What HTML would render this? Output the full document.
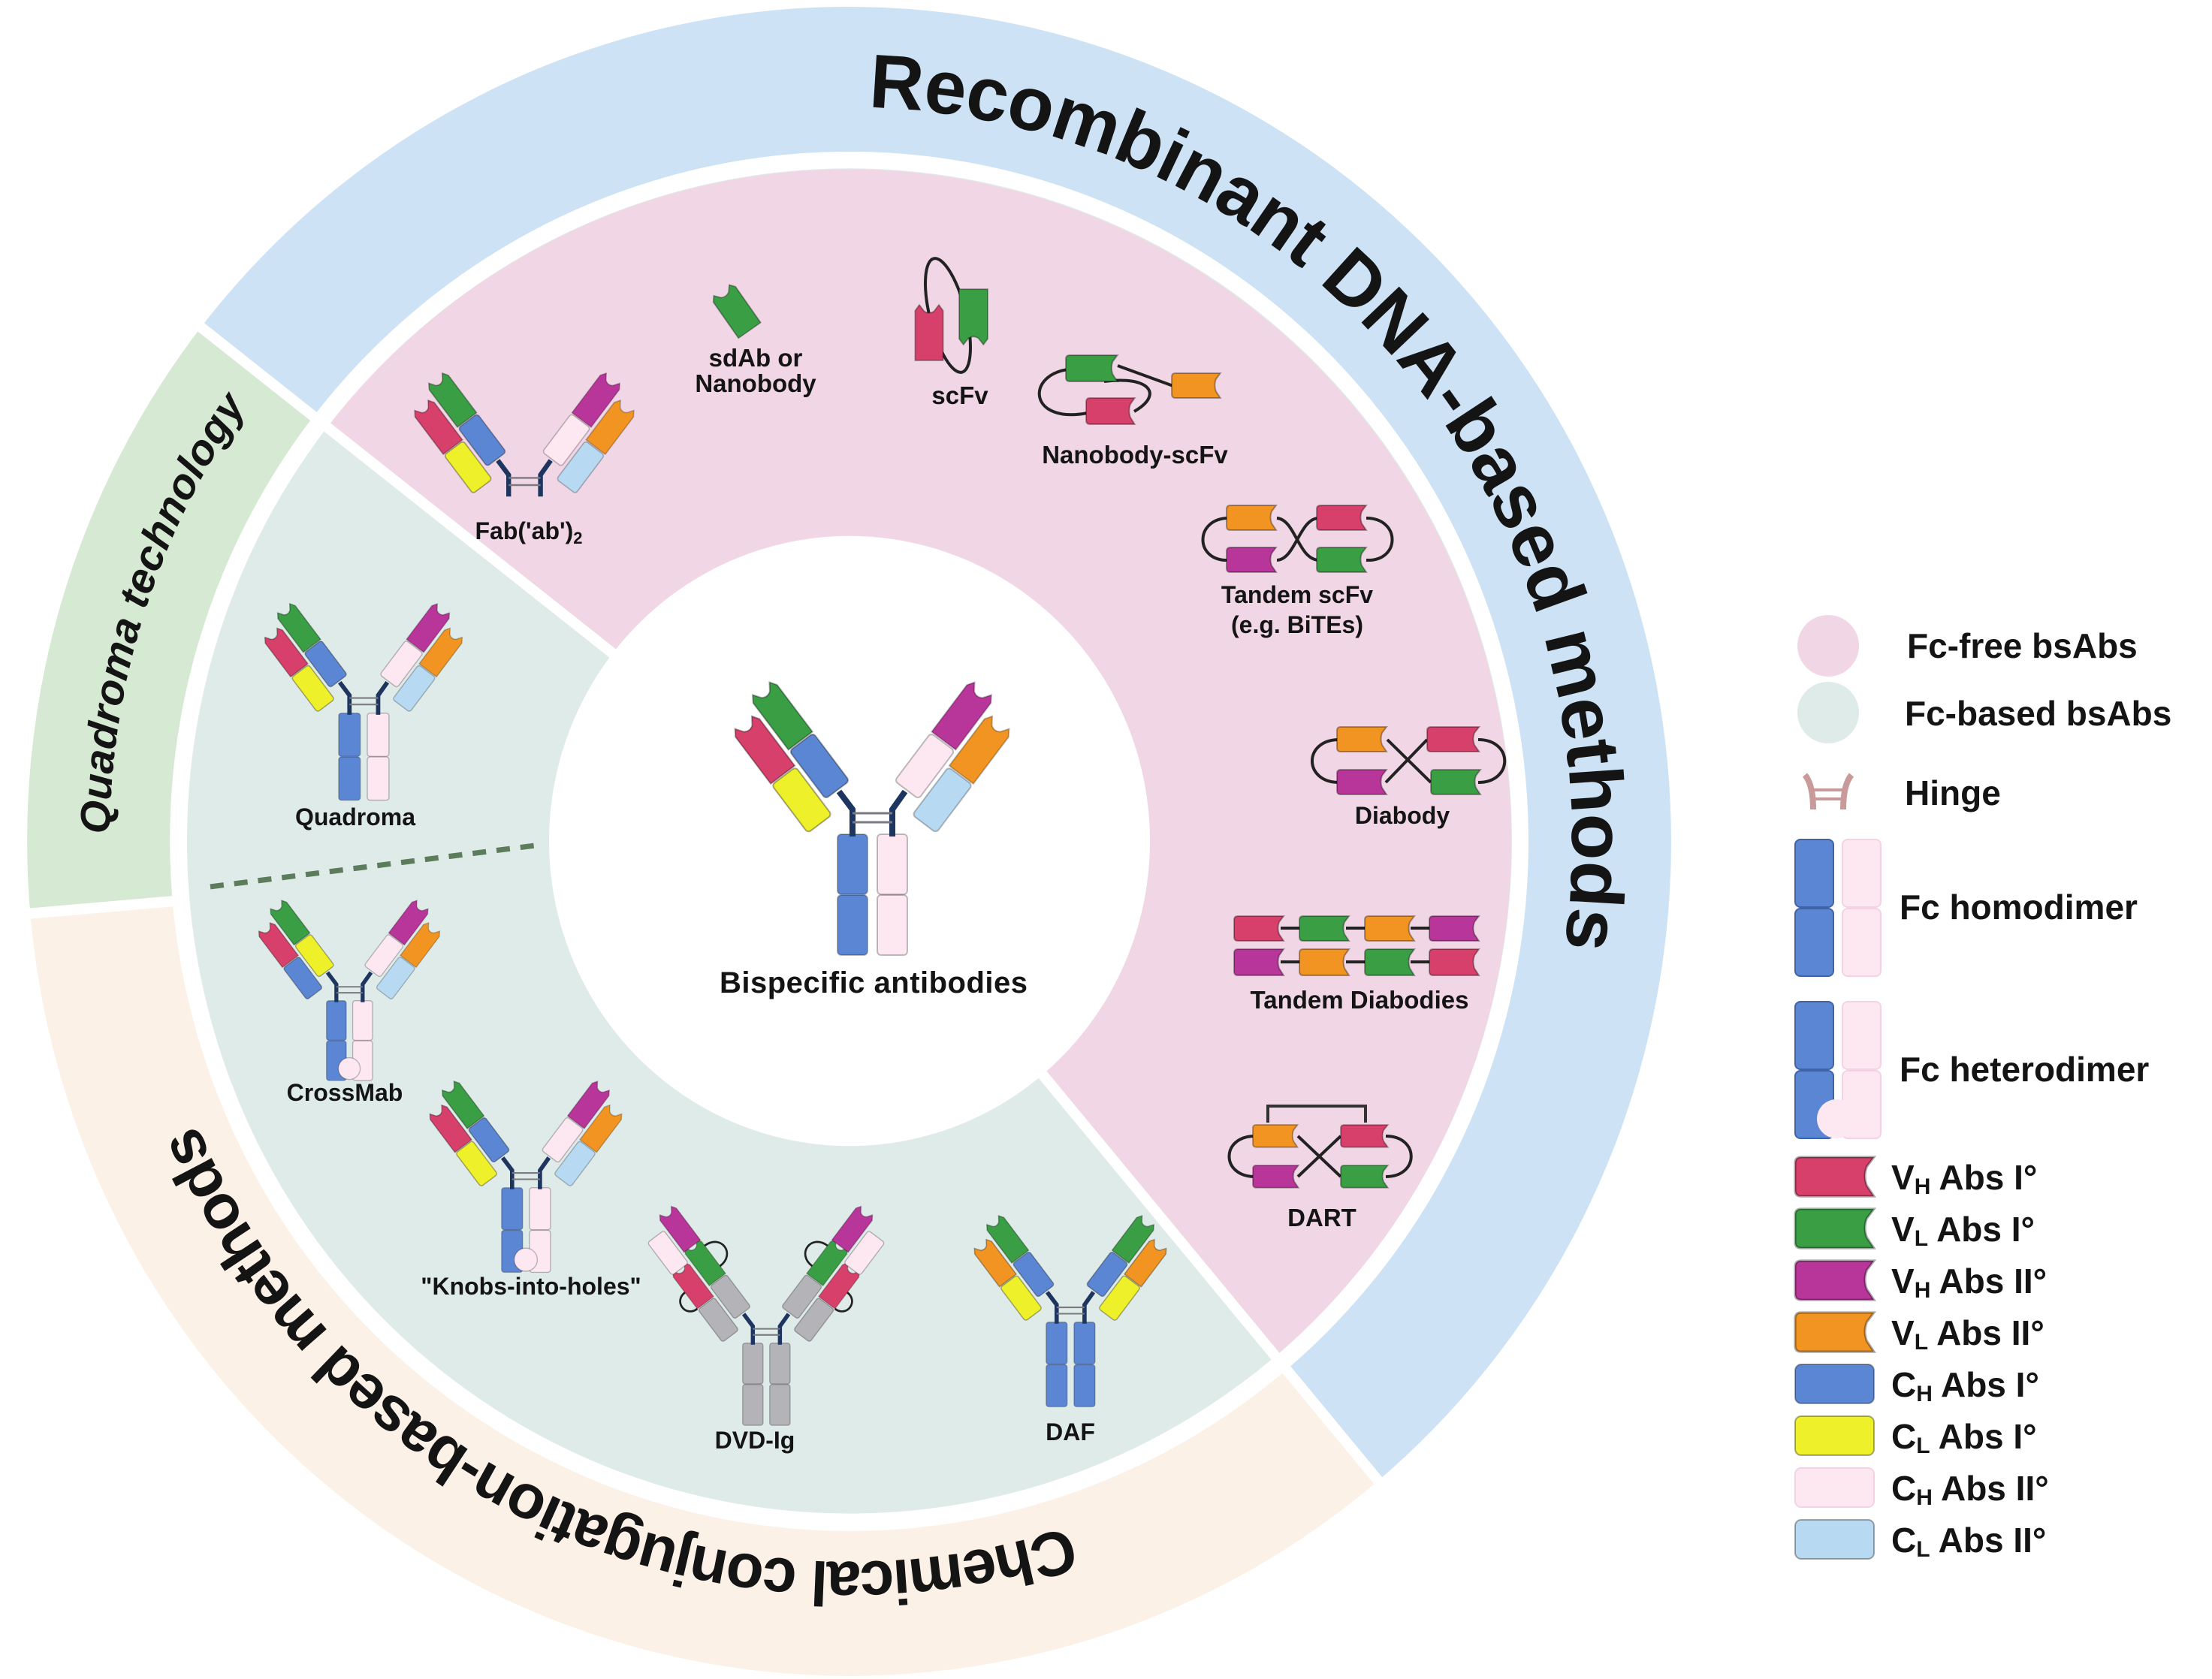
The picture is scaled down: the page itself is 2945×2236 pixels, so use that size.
<!DOCTYPE html>
<html><head><meta charset="utf-8"><style>
html,body{margin:0;padding:0;background:#fff;}
svg{display:block;}
text{font-family:"Liberation Sans",sans-serif;font-weight:bold;fill:#141414;}
</style></head><body>
<svg width="2945" height="2236" viewBox="0 0 2945 2236" xmlns="http://www.w3.org/2000/svg">
<defs>
<path id="V" d="M-20,0 V-78 L-14,-87 L-7,-77 Q0,-72 7,-77 L14,-87 L20,-78 V0 Z"/>
<rect id="C" x="-20" y="-80" width="40" height="80" rx="5"/>
<path id="H" d="M0,5 Q0,0 5,0 H66 L60,8 Q57,16 60,24 L66,33 H5 Q0,33 0,28 Z"/>
<g id="hinge">
<path d="M-26,4 V-32 L-44,-56 M27,4 V-32 L44,-56" stroke="#1e3560" stroke-width="8" fill="none"/>
<path d="M-26,-15 H27 M-26,-27 H27" stroke="#7a7a80" stroke-width="3" fill="none"/>
</g>
<g id="armStdL" stroke="#00000055" stroke-width="2">
<use href="#C" fill="#5b86d4"/><use href="#V" fill="#3a9e45" transform="translate(0,-82)"/>
<use href="#C" fill="#eef02a" transform="translate(-46,22)"/><use href="#V" fill="#d6406a" transform="translate(-46,-60)"/>
</g>
<g id="armStdR" stroke="#00000040" stroke-width="2">
<use href="#C" fill="#fde8f2"/><use href="#V" fill="#b8359a" transform="translate(0,-82)"/>
<use href="#C" fill="#b7d9f2" transform="translate(46,22)"/><use href="#V" fill="#f29422" transform="translate(46,-60)"/>
</g>
<g id="armCrossL" stroke="#00000055" stroke-width="2">
<use href="#C" fill="#eef02a"/><use href="#V" fill="#3a9e45" transform="translate(0,-82)"/>
<use href="#C" fill="#5b86d4" transform="translate(-46,22)"/><use href="#V" fill="#d6406a" transform="translate(-46,-60)"/>
</g>
<g id="armDAF" stroke="#00000055" stroke-width="2">
<use href="#C" fill="#5b86d4"/><use href="#V" fill="#3a9e45" transform="translate(0,-82)"/>
<use href="#C" fill="#eef02a" transform="translate(-46,22)"/><use href="#V" fill="#f29422" transform="translate(-46,-60)"/>
</g>
<g id="armDVD">
<path d="M20,-150 C60,-150 60,-100 20,-100 M-66,-100 C-95,-100 -95,-60 -66,-60" stroke="#222" stroke-width="4" fill="none"/>
<g stroke="#00000045" stroke-width="2">
<use href="#C" fill="#b4b4b8"/><use href="#V" fill="#3a9e45" transform="translate(0,-82)"/><use href="#V" fill="#b8359a" transform="translate(0,-164)"/>
<use href="#C" fill="#b4b4b8" transform="translate(-46,22)"/><use href="#V" fill="#d6406a" transform="translate(-46,-60)"/><use href="#C" fill="#fde8f2" transform="translate(-46,-142)"/>
</g></g>
<g id="fcHomo" stroke="#00000040" stroke-width="2">
<use href="#C" fill="#5b86d4" transform="translate(-26,81)"/><use href="#C" fill="#5b86d4" transform="translate(-26,162)"/>
<use href="#C" fill="#fde8f2" transform="translate(27,81)"/><use href="#C" fill="#fde8f2" transform="translate(27,162)"/>
</g>
<g id="fcKnob" stroke="#00000040" stroke-width="2">
<use href="#C" fill="#5b86d4" transform="translate(-26,81)"/><use href="#C" fill="#5b86d4" transform="translate(-26,162)"/>
<use href="#C" fill="#fde8f2" transform="translate(27,81)"/><use href="#C" fill="#fde8f2" transform="translate(27,162)"/>
<circle cx="0" cy="138" r="22" fill="#fde8f2"/>
</g>
<g id="abStd"><use href="#fcHomo"/><use href="#hinge"/>
<use href="#armStdL" transform="translate(-46,-58) rotate(-37)"/><use href="#armStdR" transform="translate(46,-58) rotate(37)"/></g>
</defs>

<g transform="matrix(1,0,0,1.0155,0,-17.4)">
<!-- outer ring -->
<path d="M343,504 A1000,1000 0 1 1 1774,1886" stroke="#cde3f5" stroke-width="190" fill="none"/>
<path d="M1774,1886 A1000,1000 0 0 1 135,1207" stroke="#fcf1e6" stroke-width="190" fill="none"/>
<path d="M135,1207 A1000,1000 0 0 1 343,504" stroke="#d6e9d3" stroke-width="190" fill="none"/>
<!-- inner disk -->
<circle cx="1131" cy="1120" r="882" fill="#dfebe8"/>
<path d="M1131,1120 L436,577 A882,882 0 1 1 1698,1796 Z" fill="#f1d7e5"/>
<!-- separators -->
<path d="M1131,1120 L234,420 M1131,1120 L1840,1965" stroke="#fff" stroke-width="14"/>
<path d="M230,1199 L30,1216" stroke="#fff" stroke-width="14"/>
<circle cx="1131" cy="1120" r="400" fill="#fff"/>
<path d="M280,1180 L720,1125" stroke="#5c7c5c" stroke-width="7" stroke-dasharray="18,14"/>

<!-- curved titles -->
<path id="pRec" d="M1156,158 A962,962 0 0 1 2072,1320" fill="none"/>
<text font-size="100"><textPath href="#pRec" textLength="1627" lengthAdjust="spacing">Recombinant DNA-based methods</textPath></text>
<path id="pQuad" d="M146,1111 A985,985 0 0 1 376,487" fill="none"/>
<text font-size="56" font-style="italic"><textPath href="#pQuad" textLength="600" lengthAdjust="spacing">Quadroma technology</textPath></text>
<path id="pChem" d="M1423,2019 A945,945 0 0 1 218,1365" fill="none"/>
<text font-size="82"><textPath href="#pChem" textLength="1400" lengthAdjust="spacing">Chemical conjugation-based methods</textPath></text>
</g>

<!-- central -->
<use href="#abStd" transform="translate(1161,1110)"/>
<text x="1163" y="1322" font-size="40" text-anchor="middle" textLength="410">Bispecific antibodies</text>

<!-- Fab -->
<g transform="translate(698,658) scale(0.8)"><use href="#hinge"/>
<use href="#armStdL" transform="translate(-46,-58) rotate(-37)"/><use href="#armStdR" transform="translate(46,-58) rotate(37)"/></g>
<text x="704" y="718" font-size="32" text-anchor="middle">Fab('ab')<tspan font-size="22" dy="6">2</tspan></text>

<!-- sdAb -->
<g transform="translate(998,440) rotate(-35) scale(0.9,0.75)" stroke="#00000055" stroke-width="2"><use href="#V" fill="#3a9e45"/></g>
<text x="1006" y="488" font-size="33" text-anchor="middle">sdAb or</text>
<text x="1006" y="522" font-size="33" text-anchor="middle">Nanobody</text>

<!-- scFv -->
<ellipse cx="1262" cy="420" rx="24" ry="78" transform="rotate(-14 1262 420)" stroke="#222" stroke-width="4" fill="none"/>
<g stroke="#00000055" stroke-width="2">
<use href="#V" fill="#d6406a" transform="translate(1237,480) scale(0.93,0.85)"/>
<use href="#V" fill="#3a9e45" transform="translate(1296,385) scale(0.95,-0.85)"/>
</g>
<text x="1278" y="538" font-size="33" text-anchor="middle">scFv</text>

<!-- Nanobody-scFv -->
<path d="M1422,492 C1365,500 1370,565 1448,550 M1488,487 L1562,514 M1510,548 C1550,525 1530,500 1470,508" stroke="#222" stroke-width="4" fill="none"/>
<g stroke="#00000055" stroke-width="2">
<use href="#H" fill="#3a9e45" transform="translate(1419,473) scale(1.04,1.06)"/>
<use href="#H" fill="#f29422" transform="translate(1560,497) scale(0.98,1)"/>
<use href="#H" fill="#d6406a" transform="translate(1446,530) scale(0.98,1.06)"/>
</g>
<text x="1511" y="617" font-size="33" text-anchor="middle">Nanobody-scFv</text>

<!-- Tandem scFv -->
<path d="M1636,690 C1590,690 1590,748 1636,746 M1700,746 C1725,745 1730,690 1756,690 M1819,690 C1865,690 1865,748 1819,746 M1700,690 C1725,692 1728,745 1756,746" stroke="#222" stroke-width="4" fill="none"/>
<g stroke="#00000055" stroke-width="2">
<use href="#H" fill="#f29422" transform="translate(1633,673)"/>
<use href="#H" fill="#b8359a" transform="translate(1633,729)"/>
<use href="#H" fill="#d6406a" transform="translate(1753,673)"/>
<use href="#H" fill="#3a9e45" transform="translate(1753,729)"/>
</g>
<text x="1727" y="803" font-size="32" text-anchor="middle">Tandem scFv</text>
<text x="1727" y="843" font-size="32" text-anchor="middle">(e.g. BiTEs)</text>

<!-- Diabody -->
<path d="M1783,985 C1735,985 1735,1042 1783,1042 M1968,985 C2015,985 2015,1042 1968,1042 M1847,985 L1905,1042 M1845,1042 L1900,985" stroke="#222" stroke-width="4" fill="none"/>
<g stroke="#00000055" stroke-width="2">
<use href="#H" fill="#f29422" transform="translate(1780,968)"/>
<use href="#H" fill="#d6406a" transform="translate(1900,968) scale(1.05,1)"/>
<use href="#H" fill="#b8359a" transform="translate(1780,1025)"/>
<use href="#H" fill="#3a9e45" transform="translate(1905,1025)"/>
</g>
<text x="1867" y="1097" font-size="32" text-anchor="middle">Diabody</text>

<!-- Tandem Diabodies -->
<path d="M1705,1236 H1735 M1792,1236 H1822 M1878,1236 H1908 M1705,1281 H1735 M1792,1281 H1822 M1878,1281 H1908" stroke="#222" stroke-width="4"/>
<g stroke="#00000055" stroke-width="2">
<use href="#H" fill="#d6406a" transform="translate(1643,1220)"/>
<use href="#H" fill="#3a9e45" transform="translate(1730,1220)"/>
<use href="#H" fill="#f29422" transform="translate(1817,1220)"/>
<use href="#H" fill="#b8359a" transform="translate(1903,1220)"/>
<use href="#H" fill="#b8359a" transform="translate(1643,1264) scale(1,1.06)"/>
<use href="#H" fill="#f29422" transform="translate(1730,1264) scale(1,1.06)"/>
<use href="#H" fill="#3a9e45" transform="translate(1817,1264) scale(1,1.06)"/>
<use href="#H" fill="#d6406a" transform="translate(1903,1264) scale(1,1.06)"/>
</g>
<text x="1810" y="1343" font-size="33" text-anchor="middle">Tandem Diabodies</text>

<!-- DART -->
<path d="M1688,1495 V1473 H1818 V1495" stroke="#333" stroke-width="4" fill="none"/>
<path d="M1671,1513 C1625,1513 1625,1567 1671,1567 M1845,1513 C1890,1513 1890,1567 1845,1567 M1728,1513 L1785,1567 M1728,1567 L1785,1513" stroke="#222" stroke-width="4" fill="none"/>
<g stroke="#00000055" stroke-width="2">
<use href="#H" fill="#f29422" transform="translate(1668,1498) scale(0.9)"/>
<use href="#H" fill="#d6406a" transform="translate(1785,1498) scale(0.95,0.9)"/>
<use href="#H" fill="#b8359a" transform="translate(1668,1552) scale(0.92,0.9)"/>
<use href="#H" fill="#3a9e45" transform="translate(1785,1552) scale(0.95,0.9)"/>
</g>
<text x="1760" y="1633" font-size="33" text-anchor="middle">DART</text>

<!-- Quadroma -->
<use href="#abStd" transform="translate(484,949) scale(0.72)"/>
<text x="473" y="1099" font-size="32" text-anchor="middle">Quadroma</text>

<!-- CrossMab -->
<g transform="translate(465,1332) scale(0.66)"><use href="#fcKnob"/><use href="#hinge"/>
<use href="#armCrossL" transform="translate(-46,-58) rotate(-37)"/><use href="#armStdR" transform="translate(46,-58) rotate(37)"/></g>
<text x="459" y="1466" font-size="32" text-anchor="middle">CrossMab</text>

<!-- Knobs-into-holes -->
<g transform="translate(700,1581) scale(0.7)"><use href="#fcKnob"/><use href="#hinge"/>
<use href="#armStdL" transform="translate(-46,-58) rotate(-37)"/><use href="#armStdR" transform="translate(46,-58) rotate(37)"/></g>
<text x="707" y="1724" font-size="32" text-anchor="middle">"Knobs-into-holes"</text>

<!-- DVD-Ig -->
<g transform="translate(1020,1788) scale(0.68)">
<g stroke="#00000040" stroke-width="2">
<use href="#C" fill="#b4b4b8" transform="translate(-26,81)"/><use href="#C" fill="#b4b4b8" transform="translate(-26,162)"/>
<use href="#C" fill="#b4b4b8" transform="translate(27,81)"/><use href="#C" fill="#b4b4b8" transform="translate(27,162)"/></g>
<use href="#hinge"/>
<use href="#armDVD" transform="translate(-46,-58) rotate(-37)"/><use href="#armDVD" transform="translate(46,-58) rotate(37) scale(-1,1)"/></g>
<text x="1005" y="1929" font-size="32" text-anchor="middle">DVD-Ig</text>

<!-- DAF -->
<g transform="translate(1425,1760) scale(0.7)">
<g stroke="#00000040" stroke-width="2">
<use href="#C" fill="#5b86d4" transform="translate(-26,81)"/><use href="#C" fill="#5b86d4" transform="translate(-26,162)"/>
<use href="#C" fill="#5b86d4" transform="translate(27,81)"/><use href="#C" fill="#5b86d4" transform="translate(27,162)"/></g>
<use href="#hinge"/>
<use href="#armDAF" transform="translate(-46,-58) rotate(-37)"/><use href="#armDAF" transform="translate(46,-58) rotate(37) scale(-1,1)"/></g>
<text x="1425" y="1918" font-size="32" text-anchor="middle">DAF</text>

<!-- Legend -->
<circle cx="2434" cy="860" r="41" fill="#f1d7e5"/>
<text x="2539" y="876" font-size="46">Fc-free bsAbs</text>
<circle cx="2434" cy="949" r="41" fill="#dfebe8"/>
<text x="2536" y="966" font-size="46">Fc-based bsAbs</text>
<path d="M2403,1032 Q2414,1045 2414,1078 M2465,1032 Q2454,1045 2454,1078" stroke="#c99a9a" stroke-width="8" fill="none"/>
<path d="M2414,1052 H2454 M2414,1064 H2454" stroke="#c99a9a" stroke-width="4"/>
<text x="2536" y="1072" font-size="46">Hinge</text>
<g stroke-width="2">
<rect x="2390" y="1118" width="51" height="90" rx="7" fill="#5b86d4" stroke="#3f63a8"/>
<rect x="2390" y="1210" width="51" height="90" rx="7" fill="#5b86d4" stroke="#3f63a8"/>
<rect x="2453" y="1118" width="51" height="90" rx="7" fill="#fde8f2" stroke="#f3d3e3"/>
<rect x="2453" y="1210" width="51" height="90" rx="7" fill="#fde8f2" stroke="#f3d3e3"/>
<rect x="2390" y="1334" width="51" height="90" rx="7" fill="#5b86d4" stroke="#3f63a8"/>
<rect x="2390" y="1426" width="51" height="90" rx="7" fill="#5b86d4" stroke="#3f63a8"/>
<rect x="2453" y="1334" width="51" height="90" rx="7" fill="#fde8f2" stroke="#f3d3e3"/>
<rect x="2453" y="1426" width="51" height="90" rx="7" fill="#fde8f2" stroke="#f3d3e3"/>
<circle cx="2445" cy="1490" r="26" fill="#fde8f2"/>
</g>
<text x="2529" y="1224" font-size="46">Fc homodimer</text>
<text x="2529" y="1440" font-size="46">Fc heterodimer</text>
<g stroke="#00000055" stroke-width="2">
<use href="#H" fill="#d6406a" transform="translate(2390,1541) scale(1.59,1.58)"/>
<use href="#H" fill="#3a9e45" transform="translate(2390,1610) scale(1.59,1.58)"/>
<use href="#H" fill="#b8359a" transform="translate(2390,1679) scale(1.59,1.58)"/>
<use href="#H" fill="#f29422" transform="translate(2390,1748) scale(1.59,1.58)"/>
<rect x="2390" y="1817" width="105" height="52" rx="8" fill="#5b86d4"/>
<rect x="2390" y="1886" width="105" height="52" rx="8" fill="#eef02a"/>
<rect x="2390" y="1955" width="105" height="52" rx="8" fill="#fde8f2" stroke="#f3d3e3"/>
<rect x="2390" y="2024" width="105" height="52" rx="8" fill="#b7d9f2"/>
</g>
<text x="2518" y="1584" font-size="46">V<tspan font-size="30" dy="6">H</tspan><tspan dy="-6"> Abs I°</tspan></text>
<text x="2518" y="1653" font-size="46">V<tspan font-size="30" dy="6">L</tspan><tspan dy="-6"> Abs I°</tspan></text>
<text x="2518" y="1722" font-size="46">V<tspan font-size="30" dy="6">H</tspan><tspan dy="-6"> Abs II°</tspan></text>
<text x="2518" y="1791" font-size="46">V<tspan font-size="30" dy="6">L</tspan><tspan dy="-6"> Abs II°</tspan></text>
<text x="2518" y="1860" font-size="46">C<tspan font-size="30" dy="6">H</tspan><tspan dy="-6"> Abs I°</tspan></text>
<text x="2518" y="1929" font-size="46">C<tspan font-size="30" dy="6">L</tspan><tspan dy="-6"> Abs I°</tspan></text>
<text x="2518" y="1998" font-size="46">C<tspan font-size="30" dy="6">H</tspan><tspan dy="-6"> Abs II°</tspan></text>
<text x="2518" y="2067" font-size="46">C<tspan font-size="30" dy="6">L</tspan><tspan dy="-6"> Abs II°</tspan></text>
</svg>
</body></html>
